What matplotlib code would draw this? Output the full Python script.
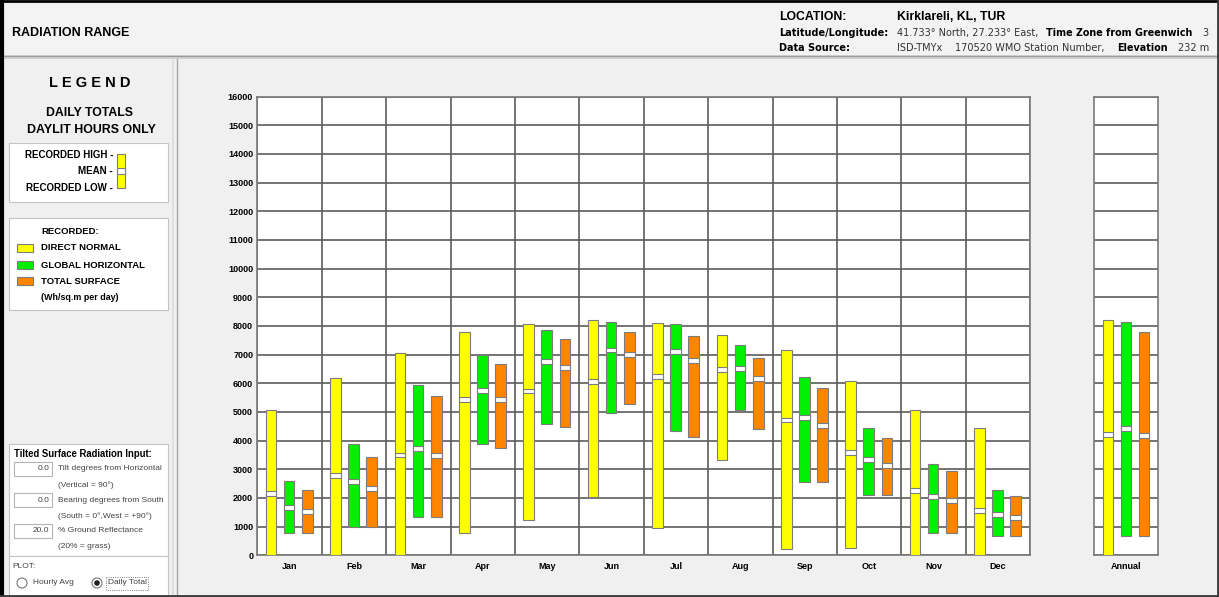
import matplotlib
matplotlib.use("Agg")
import matplotlib.pyplot as plt
from matplotlib.patches import Rectangle, Circle

plt.rcParams['font.family'] = ['Liberation Sans', 'DejaVu Sans']

# Daily radiation totals, Wh/sq.m per day (daylit hours only)
months = ["Jan", "Feb", "Mar", "Apr", "May", "Jun",
          "Jul", "Aug", "Sep", "Oct", "Nov", "Dec"]

dn_high = [5070, 6200, 7070, 7780, 8070, 8200, 8100, 7680, 7150, 6090, 5080, 4450]
dn_mean = [2150, 2780, 3500, 5420, 5730, 6050, 6250, 6480, 4720, 3580, 2260, 1550]
dn_low = [0, 0, 0, 790, 1220, 2050, 950, 3340, 220, 240, 0, 0]

gh_high = [2590, 3880, 5930, 6970, 7860, 8150, 8070, 7340, 6220, 4450, 3190, 2290]
gh_mean = [1660, 2580, 3720, 5760, 6750, 7160, 7110, 6520, 4800, 3330, 2050, 1410]
gh_low = [770, 990, 1340, 3880, 4570, 4950, 4320, 5060, 2540, 2110, 770, 660]

ts_high = [2270, 3430, 5560, 6680, 7540, 7780, 7640, 6870, 5840, 4090, 2930, 2080]
ts_mean = [1520, 2330, 3480, 5440, 6540, 6990, 6800, 6160, 4520, 3120, 1920, 1330]
ts_low = [770, 990, 1340, 3760, 4470, 5280, 4140, 4410, 2540, 2110, 770, 660]

# annual range: direct normal, global horizontal, total surface
annual_high = [8200, 8150, 7780]
annual_mean = [4200, 4420, 4190]
annual_low = [0, 660, 660]

YELLOW = "#ffff00"
GREEN = "#00f000"
ORANGE = "#ff8400"
EDGE = "#7c7c7c"
GRID = "#5c5c5c"
PANEL = "#f0f0f0"
SOFT = "#444444"

W, H = 1219, 597
fig = plt.figure(figsize=(W / 100, H / 100), dpi=100, facecolor=PANEL)

# background layer in pixel coordinates for the panels and labels
bg = fig.add_axes([0, 0, 1, 1], zorder=0)
bg.set_xlim(0, W)
bg.set_ylim(H, 0)
bg.axis("off")


def box(x0, y0, x1, y1, fc="white", ec="#c4c4c4", lw=0.8, ls="-"):
    bg.add_patch(Rectangle((x0, y0), x1 - x0, y1 - y0, facecolor=fc,
                           edgecolor=ec, linewidth=lw, linestyle=ls))


def label(x, y, s, size, weight="bold", ha="left", color="black", family=None):
    kw = {} if family is None else {"family": family}
    bg.text(x, y, s, fontsize=size, fontweight=weight, ha=ha, va="center",
            color=color, **kw)


# header
box(0, 0, W, 55, fc="#f3f3f3", ec="none")
bg.add_patch(Rectangle((0, 55), W, 4, facecolor="#cfcfcf", edgecolor="none"))
bg.plot([0, W], [55.5, 55.5], color="#9a9a9a", lw=0.8)
label(12, 33, "RADIATION RANGE", 9.0)
label(779, 17, "LOCATION:", 8.8)
label(897, 17, "Kirklareli, KL, TUR", 8.8)
label(779, 33, "Latitude/Longitude:", 7.0, family="DejaVu Sans")
label(779, 48, "Data Source:", 7.0, family="DejaVu Sans")
label(897, 33, "41.733° North, 27.233° East,", 7.0, "normal", color="#333333", family="DejaVu Sans")
label(1046, 33, "Time Zone from Greenwich", 6.9, family="DejaVu Sans")
label(1202, 33, "3", 7.0, "normal", color="#333333", family="DejaVu Sans")
label(897, 48, "ISD-TMYx", 7.0, "normal", color="#333333", family="DejaVu Sans")
label(955, 48, "170520 WMO Station Number,", 7.0, "normal", color="#333333", family="DejaVu Sans")
label(1117, 48, "Elevation", 6.9, family="DejaVu Sans")
label(1178, 48, "232 m", 7.0, "normal", color="#333333", family="DejaVu Sans")

# panel separators and outer frame
bg.plot([173, 173], [59, H], color="#dcdcdc", lw=1.2)
bg.plot([177, 177], [59, H], color="#a8a8a8", lw=1.0)
bg.plot([2, 2], [0, H], color="black", lw=3.0)
bg.plot([0, W], [1, 1], color="black", lw=2.0)
bg.plot([W - 1.5, W - 1.5], [0, H], color="#3a3a3a", lw=2.0)
bg.plot([0, W], [H - 1.5, H - 1.5], color="#3a3a3a", lw=2.0)

# legend panel
label(90, 83, "L E G E N D", 10.5, ha="center")
label(90, 113, "DAILY TOTALS", 8.8, ha="center")
label(91, 130, "DAYLIT HOURS ONLY", 8.9, ha="center")

box(9, 143, 168, 202)
label(113, 155, "RECORDED HIGH -", 7.0, ha="right")
label(113, 171, "MEAN -", 7.0, ha="right")
label(113, 188, "RECORDED LOW -", 7.0, ha="right")
box(117, 154, 125, 188, fc=YELLOW, ec=EDGE)
box(117, 168, 125, 174, fc="white", ec=EDGE)

box(9, 218, 168, 310)
label(41, 232, "RECORDED:", 6.8)
for yy, c, lab in [(248, YELLOW, "DIRECT NORMAL"), (265, GREEN, "GLOBAL HORIZONTAL"),
                   (281, ORANGE, "TOTAL SURFACE")]:
    box(17, yy - 4, 33, yy + 4, fc=c, ec=EDGE)
    label(41, yy, lab, 6.8)
label(41, 298, "(Wh/sq.m per day)", 6.4)

# tilted surface input block
box(9, 444, 168, 556)
label(14, 454, "Tilted Surface Radiation Input:", 6.85)
inputs = [("0.0", "Tilt degrees from Horizontal", "(Vertical = 90°)"),
          ("0.0", "Bearing degrees from South", "(South = 0°,West = +90°)"),
          ("20.0", "% Ground Reflectance", "(20% = grass)")]
for k, (val, lab, note) in enumerate(inputs):
    yy = 469 + 31 * k
    box(14, yy - 7, 52, yy + 7, ec="#b4b4b4")
    label(49, yy, val, 6.0, "normal", ha="right", color=SOFT)
    label(58, yy, lab, 6.0, "normal", color=SOFT)
    label(58, yy + 16, note, 6.0, "normal", color=SOFT)

box(9, 556, 168, 596)
label(12, 566, "PLOT:", 6.0, "normal", color=SOFT)
bg.add_patch(Circle((22, 583), 5, facecolor="white", edgecolor="#777777", lw=0.8))
label(33, 583, "Hourly Avg", 6.0, "normal", color=SOFT)
bg.add_patch(Circle((97, 583), 5, facecolor="white", edgecolor="#777777", lw=0.8))
bg.add_patch(Circle((97, 583), 2.8, facecolor="#222222", edgecolor="none"))
box(106, 577, 148, 590, fc="none", ec="#555555", lw=0.6, ls=":")
label(108, 583, "Daily Total", 6.0, "normal", color=SOFT)

# chart axes
ax_top, ax_bot = 96.6, 555.3
ax = fig.add_axes([257.3 / W, 1 - ax_bot / H, (1030.1 - 257.3) / W, (ax_bot - ax_top) / H], zorder=2)
axa = fig.add_axes([1094 / W, 1 - ax_bot / H, 64.3 / W, (ax_bot - ax_top) / H], zorder=2)

offsets = [0.215, 0.495, 0.778]
bw = 0.165
band = 85


def range_bar(a, x, low, mean, high, color):
    a.bar(x, high - low, bottom=low, width=bw, color=color, edgecolor=EDGE,
          linewidth=0.8, align="center", zorder=3)
    a.bar(x, 2 * band, bottom=mean - band, width=bw, color="white", edgecolor=EDGE,
          linewidth=0.8, align="center", zorder=4)


for i in range(len(months)):
    range_bar(ax, i + offsets[0], dn_low[i], dn_mean[i], dn_high[i], YELLOW)
    range_bar(ax, i + offsets[1], gh_low[i], gh_mean[i], gh_high[i], GREEN)
    range_bar(ax, i + offsets[2], ts_low[i], ts_mean[i], ts_high[i], ORANGE)

for j, c in enumerate([YELLOW, GREEN, ORANGE]):
    range_bar(axa, offsets[j], annual_low[j], annual_mean[j], annual_high[j], c)

for a, n, labels in [(ax, 12, months), (axa, 1, ["Annual"])]:
    a.set_facecolor("white")
    a.set_xlim(0, n)
    a.set_ylim(0, 16000)
    a.set_yticks(range(0, 16001, 1000))
    a.set_xticks([k + 0.5 for k in range(n)])
    a.set_xticklabels(labels, fontsize=6.5, fontweight="bold")
    a.set_xticks(range(n + 1), minor=True)
    a.tick_params(axis="x", which="both", length=0, pad=5)
    a.tick_params(axis="y", length=0, pad=3, labelsize=6.5)
    a.grid(axis="y", which="major", color=GRID, linewidth=1.2, zorder=1)
    a.grid(axis="x", which="minor", color=GRID, linewidth=1.2, zorder=1)
    a.set_axisbelow(True)
    for sp in a.spines.values():
        sp.set_color("#7a7a7a")
        sp.set_linewidth(1.2)

for t in ax.get_yticklabels():
    t.set_fontweight("bold")
axa.set_yticklabels([])
axa.grid(axis="x", which="minor", visible=False)

fig.savefig("out.png", dpi=100, facecolor=PANEL)
